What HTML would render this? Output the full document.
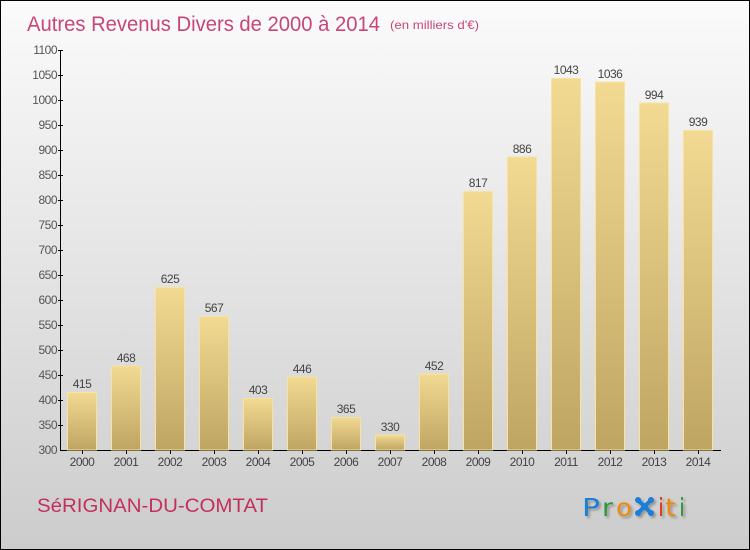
<!DOCTYPE html>
<html><head><meta charset="utf-8"><style>
html,body{margin:0;padding:0;}
body{width:750px;height:550px;overflow:hidden;}
svg{display:block;}
</style></head><body>
<svg width="750" height="550" viewBox="0 0 750 550" xmlns="http://www.w3.org/2000/svg">
<defs>
<linearGradient id="bg" x1="0" y1="0" x2="0" y2="1">
<stop offset="0" stop-color="#fbfbfb"/>
<stop offset="1" stop-color="#cccccc"/>
</linearGradient>
<linearGradient id="bar" x1="0" y1="0" x2="0" y2="1">
<stop offset="0" stop-color="#f2da93"/>
<stop offset="1" stop-color="#bfa562"/>
</linearGradient>
<filter id="sh" x="-20%" y="-20%" width="140%" height="140%">
<feGaussianBlur in="SourceAlpha" stdDeviation="1.2"/>
<feOffset dx="2" dy="2"/>
<feComponentTransfer><feFuncA type="linear" slope="0.3"/></feComponentTransfer>
<feMerge><feMergeNode/><feMergeNode in="SourceGraphic"/></feMerge>
</filter>
</defs>
<rect x="0" y="0" width="750" height="550" fill="url(#bg)"/>
<rect x="0.5" y="0.5" width="749" height="549" fill="none" stroke="#000" stroke-width="1"/>

<text x="27" y="31" font-family="Liberation Sans, sans-serif" font-size="21" fill="#c8457a" textLength="353" lengthAdjust="spacingAndGlyphs">Autres Revenus Divers de 2000 à 2014</text>
<text x="390" y="29" font-family="Liberation Sans, sans-serif" font-size="12" fill="#c8457a" textLength="89" lengthAdjust="spacingAndGlyphs">(en milliers d'€)</text>

<g font-family="Liberation Sans, sans-serif" font-size="12" fill="#555" text-anchor="end" letter-spacing="-0.5">
<text x="57" y="54">1100</text>
<text x="57" y="79">1050</text>
<text x="57" y="104">1000</text>
<text x="57" y="129">950</text>
<text x="57" y="154">900</text>
<text x="57" y="179">850</text>
<text x="57" y="204">800</text>
<text x="57" y="229">750</text>
<text x="57" y="254">700</text>
<text x="57" y="279">650</text>
<text x="57" y="304">600</text>
<text x="57" y="329">550</text>
<text x="57" y="354">500</text>
<text x="57" y="379">450</text>
<text x="57" y="404">400</text>
<text x="57" y="429">350</text>
<text x="57" y="454">300</text>
</g>
<g stroke="#000" stroke-width="1">
<line x1="60.5" y1="50" x2="60.5" y2="451"/>
<line x1="60" y1="450.5" x2="721" y2="450.5"/>
<line x1="58" y1="50.5" x2="63" y2="50.5"/>
<line x1="58" y1="75.5" x2="63" y2="75.5"/>
<line x1="58" y1="100.5" x2="63" y2="100.5"/>
<line x1="58" y1="125.5" x2="63" y2="125.5"/>
<line x1="58" y1="150.5" x2="63" y2="150.5"/>
<line x1="58" y1="175.5" x2="63" y2="175.5"/>
<line x1="58" y1="200.5" x2="63" y2="200.5"/>
<line x1="58" y1="225.5" x2="63" y2="225.5"/>
<line x1="58" y1="250.5" x2="63" y2="250.5"/>
<line x1="58" y1="275.5" x2="63" y2="275.5"/>
<line x1="58" y1="300.5" x2="63" y2="300.5"/>
<line x1="58" y1="325.5" x2="63" y2="325.5"/>
<line x1="58" y1="350.5" x2="63" y2="350.5"/>
<line x1="58" y1="375.5" x2="63" y2="375.5"/>
<line x1="58" y1="400.5" x2="63" y2="400.5"/>
<line x1="58" y1="425.5" x2="63" y2="425.5"/>
</g>

<g stroke="#f6e3a2" stroke-width="1" fill="url(#bar)">
<rect x="67.5" y="392.5" width="29" height="57.5"/>
<rect x="111.5" y="366" width="29" height="84"/>
<rect x="155.5" y="287.5" width="29" height="162.5"/>
<rect x="199.5" y="316.5" width="29" height="133.5"/>
<rect x="243.5" y="398.5" width="29" height="51.5"/>
<rect x="287.5" y="377" width="29" height="73"/>
<rect x="331.5" y="417.5" width="29" height="32.5"/>
<rect x="375.5" y="435" width="29" height="15"/>
<rect x="419.5" y="374" width="29" height="76"/>
<rect x="463.5" y="191.5" width="29" height="258.5"/>
<rect x="507.5" y="157" width="29" height="293"/>
<rect x="551.5" y="78.5" width="29" height="371.5"/>
<rect x="595.5" y="82" width="29" height="368"/>
<rect x="639.5" y="103" width="29" height="347"/>
<rect x="683.5" y="130.5" width="29" height="319.5"/>
</g>

<g font-family="Liberation Sans, sans-serif" font-size="12" fill="#444" text-anchor="middle" letter-spacing="-0.5">
<text x="82" y="388">415</text>
<text x="126" y="362">468</text>
<text x="170" y="283">625</text>
<text x="214" y="312">567</text>
<text x="258" y="394">403</text>
<text x="302" y="373">446</text>
<text x="346" y="413">365</text>
<text x="390" y="431">330</text>
<text x="434" y="370">452</text>
<text x="478" y="187">817</text>
<text x="522" y="153">886</text>
<text x="566" y="74">1043</text>
<text x="610" y="78">1036</text>
<text x="654" y="99">994</text>
<text x="698" y="126">939</text>
</g>

<g stroke="#000" stroke-width="1">
<line x1="82.5" y1="450" x2="82.5" y2="454"/>
<line x1="126.5" y1="450" x2="126.5" y2="454"/>
<line x1="170.5" y1="450" x2="170.5" y2="454"/>
<line x1="214.5" y1="450" x2="214.5" y2="454"/>
<line x1="258.5" y1="450" x2="258.5" y2="454"/>
<line x1="302.5" y1="450" x2="302.5" y2="454"/>
<line x1="346.5" y1="450" x2="346.5" y2="454"/>
<line x1="390.5" y1="450" x2="390.5" y2="454"/>
<line x1="434.5" y1="450" x2="434.5" y2="454"/>
<line x1="478.5" y1="450" x2="478.5" y2="454"/>
<line x1="522.5" y1="450" x2="522.5" y2="454"/>
<line x1="566.5" y1="450" x2="566.5" y2="454"/>
<line x1="610.5" y1="450" x2="610.5" y2="454"/>
<line x1="654.5" y1="450" x2="654.5" y2="454"/>
<line x1="698.5" y1="450" x2="698.5" y2="454"/>
</g>
<g font-family="Liberation Sans, sans-serif" font-size="12" fill="#444" text-anchor="middle" letter-spacing="-0.5">
<text x="82" y="466">2000</text>
<text x="126" y="466">2001</text>
<text x="170" y="466">2002</text>
<text x="214" y="466">2003</text>
<text x="258" y="466">2004</text>
<text x="302" y="466">2005</text>
<text x="346" y="466">2006</text>
<text x="390" y="466">2007</text>
<text x="434" y="466">2008</text>
<text x="478" y="466">2009</text>
<text x="522" y="466">2010</text>
<text x="566" y="466">2011</text>
<text x="610" y="466">2012</text>
<text x="654" y="466">2013</text>
<text x="698" y="466">2014</text>
</g>

<text x="37" y="512" font-family="Liberation Sans, sans-serif" font-size="19" fill="#c4305e" textLength="231" lengthAdjust="spacingAndGlyphs">SéRIGNAN-DU-COMTAT</text>

<g filter="url(#sh)">
<g font-family="DejaVu Sans, sans-serif" font-size="25">
<text x="582" y="516" fill="#1a7fd4" textLength="18" lengthAdjust="spacingAndGlyphs">P</text>
<text x="602" y="516" fill="#2a9a3a" textLength="11" lengthAdjust="spacingAndGlyphs">r</text>
<text x="616" y="516" fill="#f08a10" textLength="16" lengthAdjust="spacingAndGlyphs">o</text>
<text x="658" y="516" fill="#e03a1a" textLength="6" lengthAdjust="spacingAndGlyphs">i</text>
<text x="665" y="516" fill="#f08a10" textLength="11" lengthAdjust="spacingAndGlyphs">t</text>
<text x="679" y="516" fill="#2a9a3a" textLength="6" lengthAdjust="spacingAndGlyphs">i</text>
</g>
<g fill="#1a7fd4" stroke="#1a7fd4">
<line x1="638" y1="500" x2="651" y2="513" stroke-width="4" stroke-linecap="round"/>
<line x1="651" y1="500" x2="638" y2="513" stroke-width="4" stroke-linecap="round"/>
<circle cx="638" cy="500" r="3" stroke="none"/>
<circle cx="651" cy="500" r="3" stroke="none"/>
<circle cx="638" cy="513" r="3" stroke="none"/>
<circle cx="651" cy="513" r="3" stroke="none"/>
<circle cx="644.5" cy="506.5" r="3.5" stroke="none"/>
</g>
</g>
</svg>
</body></html>
